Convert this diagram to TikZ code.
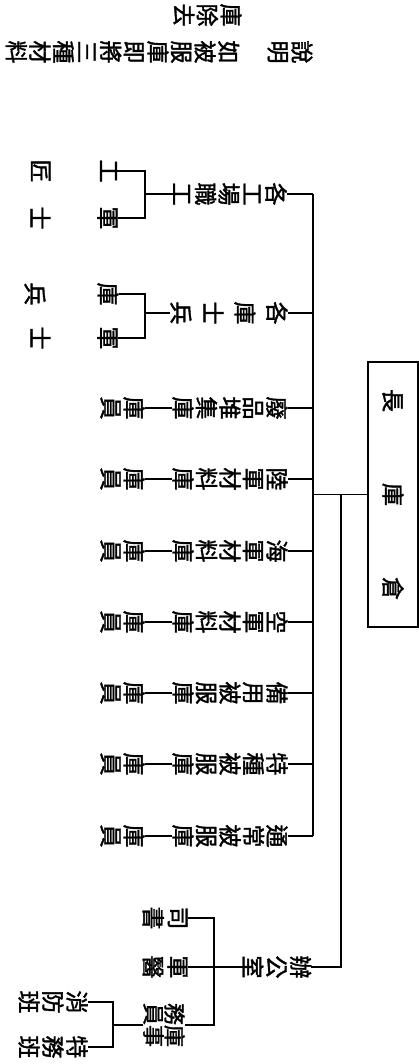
\documentclass[tikz,border=0pt]{standalone}
\usepackage{fontspec}
\newfontfamily\cjk{Noto Sans CJK TC}[BoldFont={Noto Sans CJK TC},BoldFeatures={FakeBold=1.6}]
\begin{document}
\begin{tikzpicture}[x=1pt,y=-1pt,
  vtx/.style={rotate=-90,inner sep=0pt,align=center,font={\cjk\bfseries\fontsize{23}{#1}\selectfont\lineskiplimit=-50pt}},
  vtx/.default=23.5,
  ln/.style={line width=1.1pt,black},
  trk/.style={line width=1.5pt,black}]
\useasboundingbox (0,0) rectangle (419,1064);

% note
\node[vtx=23.8] (n1) at (290,52) {說\\明};
\node[vtx=23.6] (n2) at (122.5,52) {如\\被\\服\\庫\\即\\將\\三\\種\\材\\料};
\node[vtx=23.6] (n3) at (207.5,15) {庫\\除\\去};

% head box
\node[rotate=-90,draw,line width=1.1pt,minimum width=265pt,minimum height=50pt,inner sep=0pt,
      font=\cjk\bfseries\fontsize{23}{23}\selectfont] (box) at (393,494.5) {長\hspace{71pt}庫\hspace{71pt}倉};

% second level
\node[vtx] (b1) at (230,194) {各\\工\\場\\職\\工};
\node[vtx=32] (b2) at (229,313) {各\\庫\\士\\兵};
\node[vtx] (b3) at (230,408) {廢\\品\\堆\\集\\庫};
\node[vtx] (b4) at (230,479) {陸\\軍\\材\\料\\庫};
\node[vtx] (b5) at (230,551) {海\\軍\\材\\料\\庫};
\node[vtx] (b6) at (230,622) {空\\軍\\材\\料\\庫};
\node[vtx] (b7) at (230,693) {備\\用\\被\\服\\庫};
\node[vtx] (b8) at (230,764) {特\\種\\被\\服\\庫};
\node[vtx] (b9) at (230,836) {通\\常\\被\\服\\庫};

% third level
\node[vtx=68] (d1) at (74,171) {工\\匠};
\node[vtx=68] (d2) at (74,218) {軍\\士};
\node[vtx=73] (d3) at (71.5,294) {庫\\兵};
\node[vtx=68] (d4) at (74,338) {軍\\士};
\foreach \i/\y in {3/408,4/479,5/551,6/622,7/693,8/764,9/836}
  \node[vtx=23] (c\i) at (122.5,\y) {庫\\員};

% office group
\node[vtx=24] (e0) at (277,967) {辦\\公\\室};
\node[vtx=25] (e1) at (165,918) {司\\書};
\node[vtx=25] (e2) at (165,967) {軍\\醫};
\node[rotate=-90,inner sep=0pt,align=center,font={\cjk\bfseries\fontsize{22}{21}\selectfont\lineskiplimit=-50pt}] (e3) at (164,1025) {務庫\\員事};
\node[vtx=24] (f1) at (53,1002) {消\\防\\班};
\node[vtx=24] (f2) at (53,1047) {特\\務\\班};

% guide coordinates
\coordinate (trunk) at (313,0);
\coordinate (v2) at (341,0);
\coordinate (bk1) at (145,0);
\coordinate (bk2) at (214,0);
\coordinate (bk3) at (113,0);

% trunk
\draw[trk] (b1.north -| trunk) -- (b9.north -| trunk);
\foreach \i in {1,...,9}
  \draw[ln] (b\i.north) -- (b\i.north -| trunk);
\draw[ln] (box.south) -- (box.south -| trunk);
\draw[trk] (box.south -| v2) -- (e0.north -| v2) -- (e0.north);

% store clerks
\foreach \i in {3,...,9}
  \draw[ln] (b\i.south) -- (c\i.north);

% brackets of first two groups
\draw[ln] (b1.south) -- (b1.south -| bk1);
\draw[ln] (d1.north) -- (d1.north -| bk1) -- (d2.north -| bk1) -- (d2.north);
\draw[ln] (b2.south) -- (b2.south -| bk1);
\draw[ln] (d3.north) -- (d3.north -| bk1) -- (d4.north -| bk1) -- (d4.north);

% office brackets
\draw[ln] (e0.south) -- (e2.north);
\draw[ln] (e1.north) -- (e1.north -| bk2) -- (e3.north -| bk2) -- (e3.north);
\draw[ln] (e3.south) -- (e3.south -| bk3);
\draw[ln] (f1.north) -- (f1.north -| bk3) -- (f2.north -| bk3) -- (f2.north);
\end{tikzpicture}
\end{document}
